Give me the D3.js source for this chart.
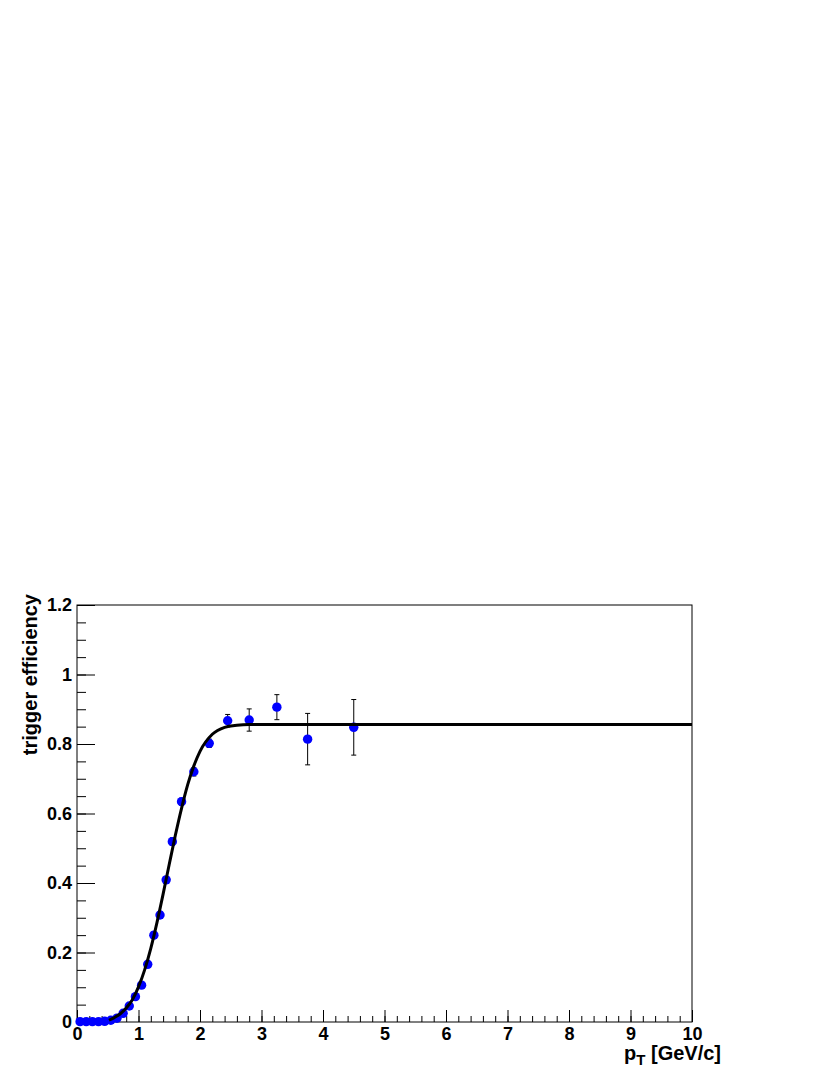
<!DOCTYPE html>
<html>
<head>
<meta charset="utf-8">
<script src="https://cdn.jsdelivr.net/npm/d3@7"></script>
<style>
  html, body { margin: 0; padding: 0; background: #fff; }
  svg { display: block; }
  text { font-family: "Liberation Sans", Arial, Helvetica, sans-serif; font-weight: bold; }
</style>
</head>
<body>
<svg id="chart" width="830" height="1075"></svg>
<script>
// ---- data ----
const ptValues = [0.05,0.15,0.25,0.35,0.45,0.55,0.65,0.75,0.85,0.95,1.05,1.15,1.25,1.35,1.45,1.55,1.7,1.9,2.15,2.45,2.8,3.25,3.75,4.5];
const effValues = [0.001,0.001,0.001,0.001,0.002,0.005,0.011,0.025,0.046,0.073,0.106,0.166,0.250,0.308,0.409,0.519,0.634,0.720,0.802,0.867,0.869,0.906,0.814,0.848];
const effErrors = [0.001,0.001,0.001,0.001,0.001,0.002,0.003,0.004,0.005,0.006,0.007,0.008,0.009,0.010,0.010,0.011,0.010,0.012,0.012,0.018,0.032,0.036,0.074,0.080];

// fit curve
const fitX = [0.52,0.6,0.7,0.8,0.9,1.0,1.1,1.2,1.3,1.4,1.5,1.6,1.7,1.8,1.9,2.0,2.2,2.4,2.6,2.8,3.0,4.0,5.0,10.0];
const fitY = [0.005,0.012,0.023,0.040,0.064,0.101,0.150,0.212,0.286,0.368,0.454,0.538,0.615,0.683,0.737,0.779,0.828,0.848,0.854,0.856,0.856,0.856,0.856,0.856];

const xMajorTicks = [0,1,2,3,4,5,6,7,8,9,10];
const yMajorTicks = [0,0.2,0.4,0.6,0.8,1.0,1.2];
const xTitle = "p";
const xTitleSub = "T";
const xTitleRest = " [GeV/c]";
const yTitle = "trigger efficiency";

// ---- layout ----
const L = 77, R = 692, T = 605, B = 1022;
const svg = d3.select("#chart");
const x = d3.scaleLinear().domain([0, 10]).range([L, R]);
const y = d3.scaleLinear().domain([0, 1.2]).range([B, T]);

const xMinor = d3.range(0, 10.0001, 0.2).map(v => +v.toFixed(2));
const yMinor = d3.range(0, 1.2001, 0.05).map(v => +v.toFixed(3));

// minor ticks
const gxm = svg.append("g").attr("transform", `translate(0,${B})`)
  .call(d3.axisBottom(x).tickValues(xMinor).tickSize(-6).tickSizeOuter(0).tickFormat(""));
const gym = svg.append("g").attr("transform", `translate(${L},0)`)
  .call(d3.axisLeft(y).tickValues(yMinor).tickSize(-9).tickSizeOuter(0).tickFormat(""));

// major ticks + labels
const gx = svg.append("g").attr("transform", `translate(0,${B})`)
  .call(d3.axisBottom(x).tickValues(xMajorTicks).tickSize(-12).tickSizeOuter(0).tickPadding(5).tickFormat(d3.format("~g")));
const gy = svg.append("g").attr("transform", `translate(${L},0)`)
  .call(d3.axisLeft(y).tickValues(yMajorTicks).tickSize(-18).tickSizeOuter(0).tickPadding(5).tickFormat(d3.format("~g")));

[gxm, gym, gx, gy].forEach(g => {
  g.select(".domain").remove();
  g.selectAll(".tick line").attr("stroke", "#000").attr("stroke-width", 1);
});
[gx, gy].forEach(g => g.selectAll(".tick text").attr("font-size", 18).attr("fill", "#000")
  .attr("font-family", '"Liberation Sans", Arial, sans-serif').attr("font-weight", "bold"));

// frame
svg.append("rect").attr("x", L).attr("y", T).attr("width", R - L).attr("height", B - T)
  .attr("fill", "none").attr("stroke", "#000").attr("stroke-width", 1);

// data
const pts = ptValues.map((p, i) => ({ p, v: effValues[i], e: effErrors[i] }));
const eb = svg.append("g").attr("stroke", "#000").attr("stroke-width", 1);
pts.forEach(d => {
  const yt = y(d.v + d.e), yb = y(d.v - d.e), cx = x(d.p);
  if (yb - yt > 9) {
    eb.append("line").attr("x1", cx).attr("x2", cx).attr("y1", yt).attr("y2", yb);
  }
  if (yb - yt > 1) {
    eb.append("line").attr("x1", cx - 2.5).attr("x2", cx + 2.5).attr("y1", yt).attr("y2", yt);
    eb.append("line").attr("x1", cx - 2.5).attr("x2", cx + 2.5).attr("y1", yb).attr("y2", yb);
  }
});
svg.append("g").selectAll("circle").data(pts).join("circle")
  .attr("cx", d => x(d.p)).attr("cy", d => y(d.v)).attr("r", 4.7).attr("fill", "#0000ff");

// fit curve
const fit = fitX.map((p, i) => [p, fitY[i]]);
svg.append("path").datum(fit)
  .attr("d", d3.line().x(d => x(d[0])).y(d => y(d[1])).curve(d3.curveMonotoneX))
  .attr("fill", "none").attr("stroke", "#000").attr("stroke-width", 3);

// axis titles
const xt = svg.append("text").attr("x", 721).attr("y", 1060).attr("text-anchor", "end")
  .attr("font-size", 20).attr("fill", "#000");
xt.append("tspan").text(xTitle);
xt.append("tspan").attr("font-size", 15).attr("dy", 5).text(xTitleSub);
xt.append("tspan").attr("dy", -5).text(xTitleRest);

svg.append("text").attr("transform", "translate(37,594) rotate(-90)")
  .attr("text-anchor", "end").attr("font-size", 20).attr("fill", "#000").text(yTitle);
</script>
</body>
</html>
